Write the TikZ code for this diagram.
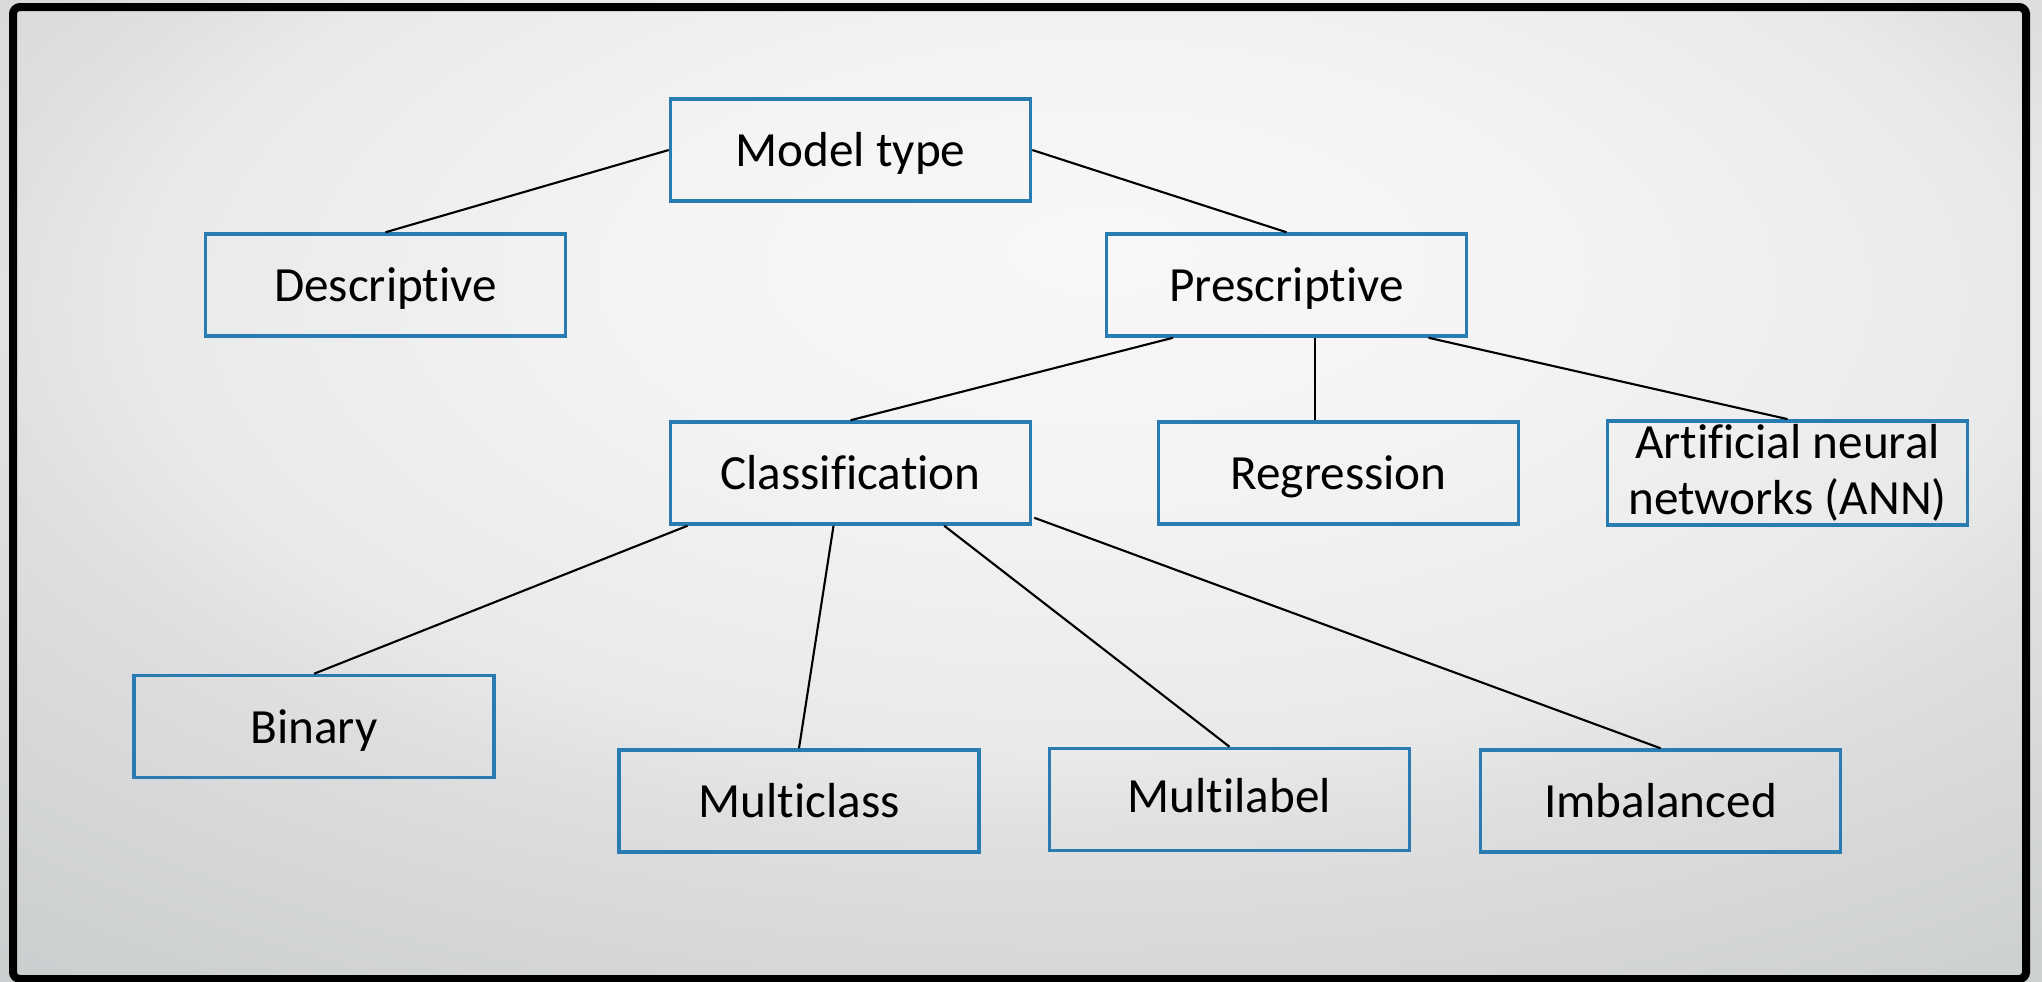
\documentclass[tikz,border=0pt]{standalone}
\usepackage{fontspec}
\setmainfont{Carlito}[Ligatures={NoCommon}]
\usetikzlibrary{calc}
\definecolor{boxblue}{RGB}{40,124,178}
\pgfdeclareradialshading{bgshade}{\pgfpoint{2bp}{12.5bp}}{%
  rgb(0bp)=(0.970,0.970,0.970);
  rgb(11bp)=(0.955,0.955,0.955);
  rgb(23bp)=(0.912,0.915,0.915);
  rgb(27bp)=(0.872,0.876,0.878);
  rgb(35bp)=(0.826,0.834,0.838);
  rgb(45bp)=(0.780,0.796,0.800);
  rgb(100bp)=(0.780,0.796,0.800)}
\tikzset{
  mbox/.style={draw=boxblue, line width=1pt, minimum width=3.6cm, minimum height=1.02cm,
    inner sep=1pt, align=center, font=\fontsize{14}{16}\selectfont},
  sbox/.style={mbox, text height=12.5pt, text depth=3pt},
  conn/.style={draw=black, line width=0.6pt}
}
\begin{document}
\begin{tikzpicture}
\useasboundingbox (0,0) rectangle (20.42,-9.81);
\shade[shading=bgshade] (0,0) rectangle (20.42,-9.81);
\draw[line width=0.08cm, rounded corners=2pt] (0.13,-0.07) rectangle (20.26,-9.79);

\node[sbox] (mt) at (8.505,-1.50) {Model type};
\node[sbox] (de) at (3.855,-2.85) {Descriptive};
\node[sbox] (pr) at (12.865,-2.85) {Prescriptive};
\node[sbox] (cl) at (8.505,-4.73) {Classification};
\node[sbox] (re) at (13.385,-4.73) {Regression};
\node[mbox] (an) at (17.875,-4.73) {Artificial neural\\networks (ANN)};
\node[sbox] (bi) at (3.14,-7.265) {Binary};
\node[sbox] (mc) at (7.99,-8.01) {Multiclass};
\node[sbox] (ml) at (12.295,-7.995) {\raisebox{1pt}{Multilabel}};
\node[sbox] (im) at (16.605,-8.01) {Imbalanced};

\draw[conn] (mt.west) -- (de.north);
\draw[conn] (mt.east) -- (pr.north);
\draw[conn] ($(pr.south)+(-1.135,0)$) -- (cl.north);
\coordinate (prr) at ($(pr.south)+(0.285,0)$);
\draw[conn] (prr) -- (prr |- re.north);
\draw[conn] ($(pr.south)+(1.42,0)$) -- (an.north);
\draw[conn] ($(cl.south)+(-1.63,0)$) -- (bi.north);
\draw[conn] ($(cl.south)+(-0.17,0)$) -- (mc.north);
\draw[conn] ($(cl.south)+(0.937,0)$) -- (ml.north);
\draw[conn] ($(cl.south east)+(0.02,0.08)$) -- (im.north);
\end{tikzpicture}
\end{document}
